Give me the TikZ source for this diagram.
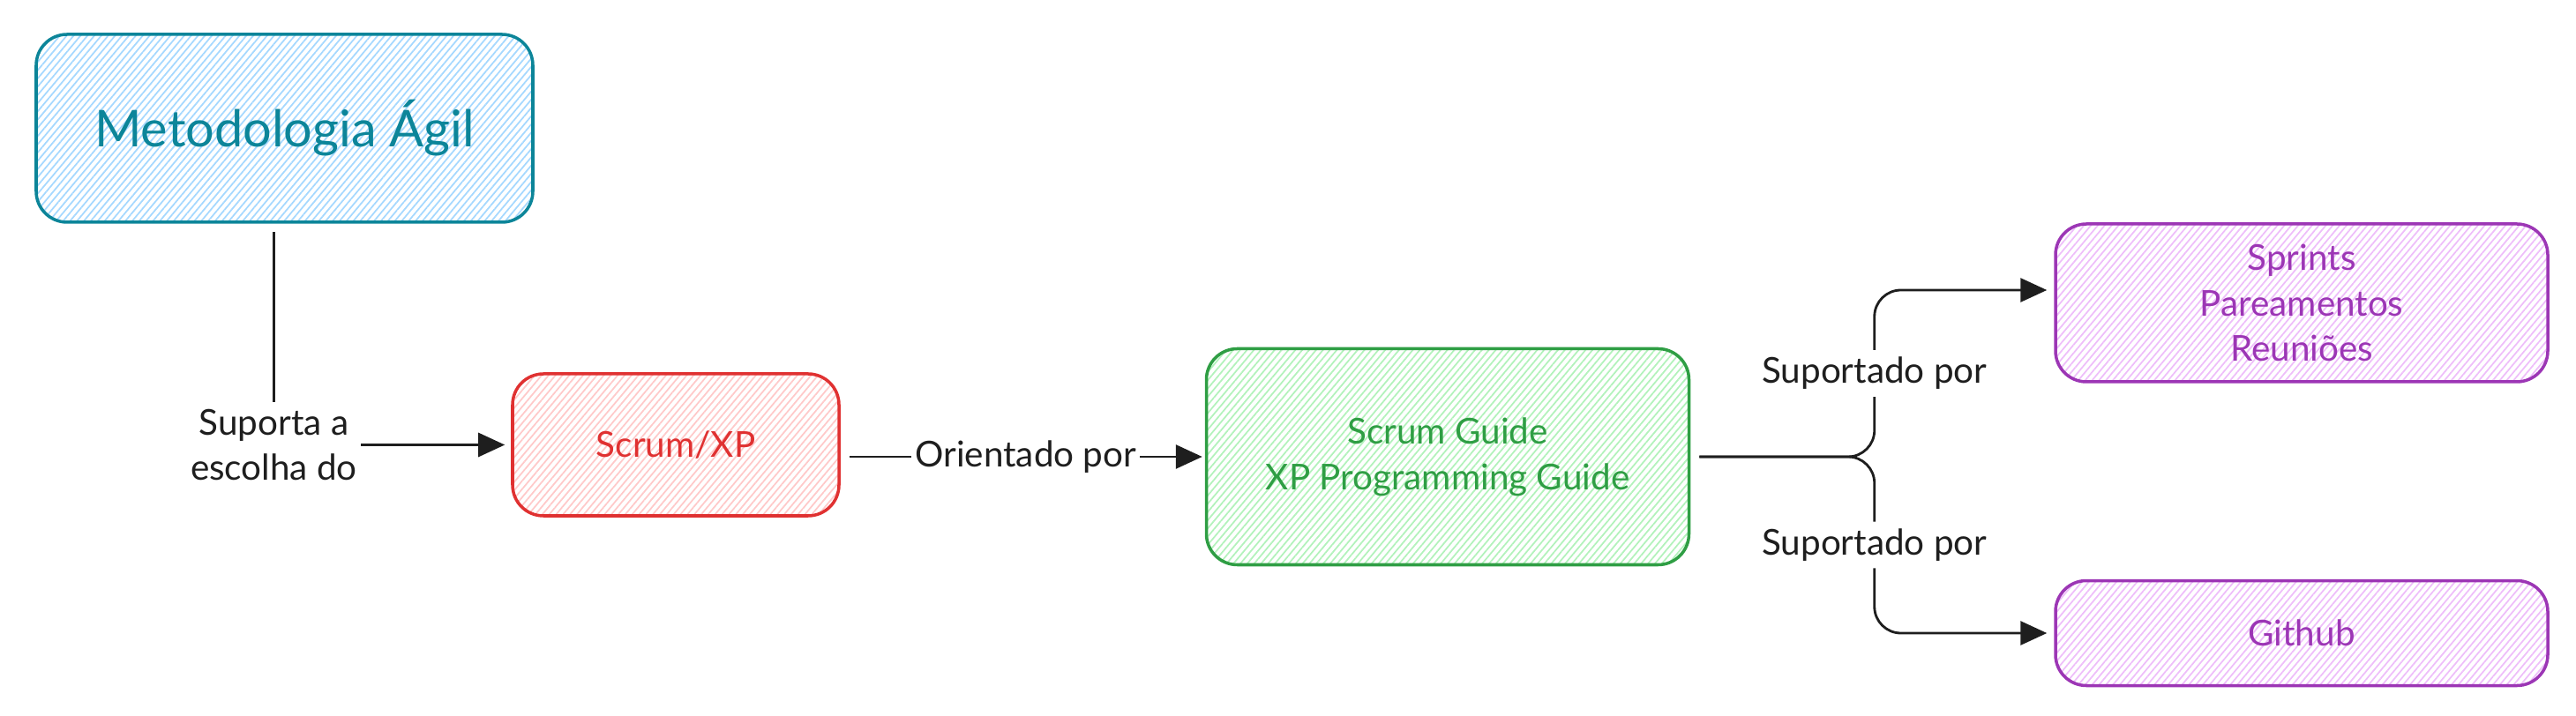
\documentclass[tikz,border=0pt]{standalone}
\usepackage{fontspec}
\setmainfont{Lato}
\usetikzlibrary{positioning,arrows.meta,patterns.meta}
\definecolor{tealline}{HTML}{0C8599}
\definecolor{tealfill}{HTML}{A5D8FF}
\definecolor{redline}{HTML}{E03131}
\definecolor{redfill}{HTML}{FFC9C9}
\definecolor{greenline}{HTML}{2F9E44}
\definecolor{greenfill}{HTML}{B2F2BB}
\definecolor{purpleline}{HTML}{9C36B5}
\definecolor{purplefill}{HTML}{EEBEFA}
\definecolor{ink}{HTML}{1E1E1E}
\begin{document}
\begin{tikzpicture}[box/.style={draw=#1line,line width=1pt,rounded corners=3.5mm,text=#1line,align=center,inner sep=0pt,
    pattern={Lines[angle=50,distance=0.6mm,line width=0.5pt]},pattern color=#1fill,font=\fontsize{11.5}{14.7}\selectfont},
  conn/.style={draw=ink,line width=0.8pt,-{Triangle[length=3mm,width=2.7mm]}},
  lbl/.style={fill=white,text=ink,align=center,inner xsep=0.4mm,inner ysep=0.8mm,font=\fontsize{11.5}{14.7}\selectfont}]
\useasboundingbox (0,0) rectangle (29.2,-8.12);
\node[box=teal,minimum width=5.63cm,minimum height=2.13cm,font=\fontsize{16.4}{20}\selectfont] (meta) at (3.225,-1.455) {Metodologia Ágil};
\node[box=red,minimum width=3.7cm,minimum height=1.61cm] (scrum) at (7.66,-5.045) {Scrum/XP};
\node[box=green,minimum width=5.47cm,minimum height=2.45cm] (guide) at (16.41,-5.18) {Scrum Guide\\XP Programming Guide};
\node[box=purple,minimum width=5.58cm,minimum height=1.79cm] (pract) at (26.09,-3.435) {Sprints\\Pareamentos\\Reuniões};
\node[box=purple,minimum width=5.58cm,minimum height=1.19cm,below=2.22cm of pract] (github) {Github};
% connectors
\draw[conn] ([xshift=-1.2mm,yshift=-1mm]meta.south) |- node[lbl]{Suporta a\\escolha do} ([xshift=-0.7mm]scrum.west);
\draw[conn] ([xshift=1mm]scrum.east |- guide.west) -- node[lbl]{Orientado por} ([xshift=-0.3mm]guide.west);
\draw[conn,rounded corners=3mm] ([xshift=1mm]guide.east) -- ++(1.985,0) |- node[lbl,pos=0.25]{Suportado por} ([xshift=-0.8mm,yshift=1.45mm]pract.west);
\draw[conn,rounded corners=3mm] ([xshift=1mm]guide.east) -- ++(1.985,0) |- node[lbl,pos=0.25]{Suportado por} ([xshift=-0.8mm]github.west);
\end{tikzpicture}
\end{document}
